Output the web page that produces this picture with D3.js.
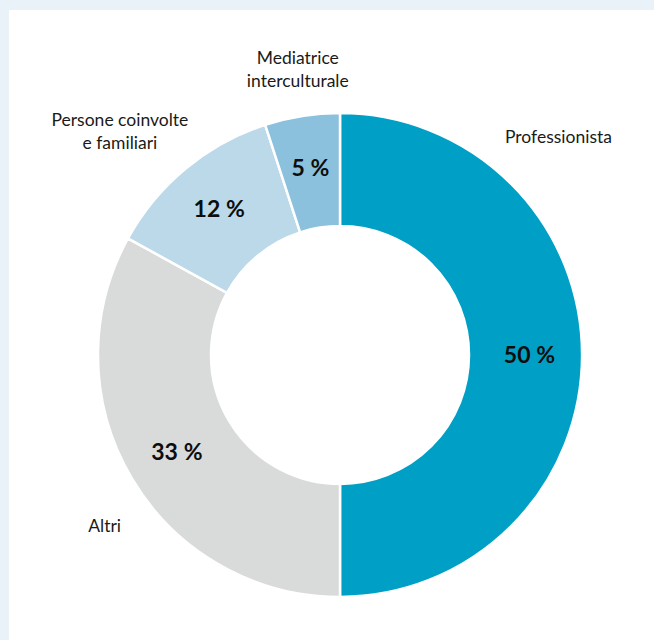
<!DOCTYPE html>
<html lang="it">
<head>
  <meta charset="UTF-8" />
  <script src="https://d3js.org/d3.v7.min.js"></script>
  <style>
    html, body {
      margin: 0;
      padding: 0;
      width: 654px;
      height: 640px;
      background: #e9f2f8; /* light blue frame */
      overflow: hidden;
      font-family: Lato, "Noto Sans", sans-serif;
    }
    #chart {
      position: absolute;
      left: 9px;
      top: 10px;
      width: 645px;
      height: 630px;
      background: #fff;
    }
    .cat { font-size: 17.5px; font-weight: 400; fill: #1a1a1a; }
    .pct { font-size: 23px; font-weight: 700; fill: #0d0d0d; }
  </style>
</head>
<body>
  <div id="chart"></div>

  <script>
    // data
    const categories = ["Professionista", "Altri", "Persone coinvolte\ne familiari", "Mediatrice\ninterculturale"];
    const values = [50, 33, 12, 5];
    const colors = ["#00a0c6", "#d9dada", "#bcd9e9", "#8bc1dc"];

    // where the category names sit (angle in degrees clockwise from top, distance from centre)
    const labelAngle = [45, 234, 315.5, 351.6];
    const labelDist = [309, 291, 314, 289];

    const width = 645, height = 630;
    const cx = 331, cy = 345;
    const outerR = 242, innerR = 129;

    const svg = d3.select("#chart")
      .append("svg")
      .attr("width", width)
      .attr("height", height);

    const g = svg.append("g").attr("transform", `translate(${cx},${cy})`);

    const data = categories.map((c, i) => ({ name: c, value: values[i], color: colors[i], i }));

    const pie = d3.pie().value(d => d.value).sort(null);
    const arc = d3.arc().innerRadius(innerR).outerRadius(outerR);
    // slightly larger radius for the value labels, as in the original
    const labelArc = d3.arc().innerRadius(innerR + 8).outerRadius(outerR);

    const arcs = pie(data);

    // slices
    g.selectAll("path")
      .data(arcs)
      .enter()
      .append("path")
      .attr("d", arc)
      .attr("fill", d => d.data.color)
      .attr("stroke", "#fff")
      .attr("stroke-width", 2.5);

    // percentage labels near the centroid of each slice
    g.selectAll("text.pct")
      .data(arcs)
      .enter()
      .append("text")
      .attr("class", "pct")
      .attr("text-anchor", "middle")
      .attr("dy", "0.35em")
      .attr("x", d => labelArc.centroid(d)[0])
      .attr("y", d => labelArc.centroid(d)[1])
      .text(d => d.data.value + "\u202F%");

    // category names outside the ring
    const cat = g.selectAll("text.cat")
      .data(data)
      .enter()
      .append("text")
      .attr("class", "cat")
      .attr("text-anchor", "middle")
      .attr("transform", d => {
        const a = labelAngle[d.i] * Math.PI / 180;
        const r = labelDist[d.i];
        return `translate(${r * Math.sin(a)},${-r * Math.cos(a)})`;
      });

    cat.each(function (d) {
      const lines = d.name.split("\n");
      const el = d3.select(this);
      lines.forEach((l, k) => {
        el.append("tspan")
          .attr("x", 0)
          .attr("dy", k === 0 ? ((0.35 - (lines.length - 1) * 0.63) + "em") : "1.3em")
          .text(l);
      });
    });
  </script>
</body>
</html>
